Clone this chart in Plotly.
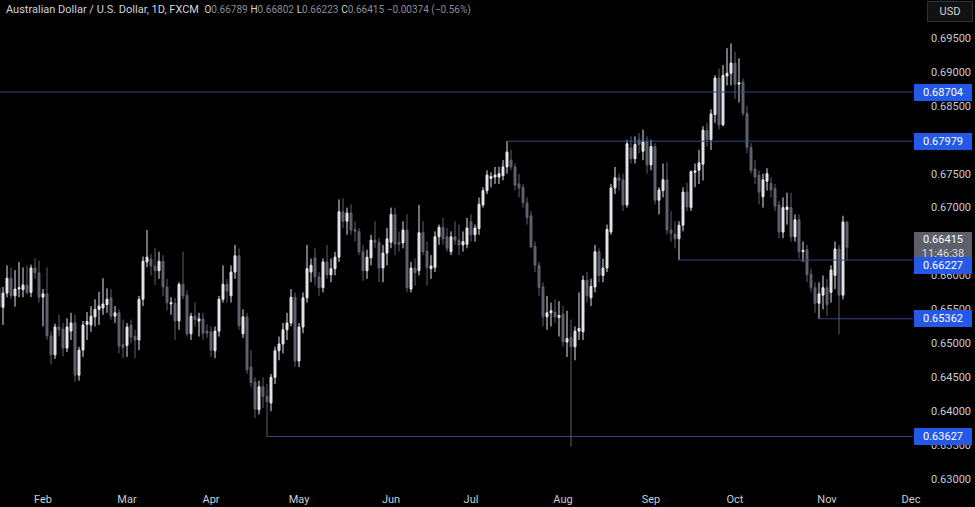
import pandas as pd
import plotly.graph_objects as go

# ---------------- data (AUD/USD daily) ----------------
dates = pd.bdate_range("2024-01-17", "2024-11-08")

opens = [
    0.6582, 0.6553, 0.6574, 0.6596, 0.6570, 0.6580, 0.6579, 0.6586, 0.6575, 0.6611,
    0.6604, 0.6568, 0.6573, 0.6511, 0.6483, 0.6524, 0.6521, 0.6493, 0.6518, 0.6530,
    0.6453, 0.6490, 0.6528, 0.6527, 0.6539, 0.6550, 0.6552, 0.6557, 0.6567, 0.6540,
    0.6545, 0.6498, 0.6497, 0.6527, 0.6510, 0.6505, 0.6565, 0.6620, 0.6624, 0.6614,
    0.6607, 0.6621, 0.6583, 0.6558, 0.6559, 0.6533, 0.6587, 0.6571, 0.6514, 0.6540,
    0.6533, 0.6536, 0.6518, 0.6517, 0.6489, 0.6518, 0.6565, 0.6587, 0.6570, 0.6605,
    0.6629, 0.6514, 0.6539, 0.6465, 0.6443, 0.6402, 0.6436, 0.6422, 0.6412, 0.6450,
    0.6489, 0.6499, 0.6520, 0.6530, 0.6568, 0.6474, 0.6524, 0.6567, 0.6605, 0.6626,
    0.6598, 0.6582, 0.6620, 0.6601, 0.6610, 0.6627, 0.6694, 0.6680, 0.6692, 0.6668,
    0.6665, 0.6635, 0.6607, 0.6626, 0.6652, 0.6649, 0.6611, 0.6633, 0.6649, 0.6690,
    0.6649, 0.6648, 0.6667, 0.6580, 0.6611, 0.6607, 0.6663, 0.6636, 0.6610, 0.6612,
    0.6657, 0.6671, 0.6657, 0.6635, 0.6657, 0.6652, 0.6645, 0.6646, 0.6679, 0.6660,
    0.6669, 0.6704, 0.6725, 0.6743, 0.6745, 0.6745, 0.6747, 0.6760, 0.6770, 0.6760,
    0.6735, 0.6730, 0.6707, 0.6688, 0.6643, 0.6615, 0.6583, 0.6539, 0.6545, 0.6546,
    0.6538, 0.6543, 0.6502, 0.6509, 0.6495, 0.6518, 0.6517, 0.6593, 0.6567, 0.6583,
    0.6635, 0.6600, 0.6611, 0.6664, 0.6729, 0.6744, 0.6741, 0.6704, 0.6788, 0.6772,
    0.6800, 0.6783, 0.6798, 0.6763, 0.6790, 0.6711, 0.6725, 0.6741, 0.6667, 0.6661,
    0.6654, 0.6674, 0.6723, 0.6700, 0.6752, 0.6755, 0.6764, 0.6814, 0.6800, 0.6837,
    0.6891, 0.6822, 0.6894, 0.6898, 0.6913, 0.6882, 0.6885, 0.6839, 0.6789, 0.6757,
    0.6748, 0.6716, 0.6739, 0.6736, 0.6728, 0.6704, 0.6664, 0.6697, 0.6700, 0.6657,
    0.6682, 0.6635, 0.6638, 0.6602, 0.6582, 0.6559, 0.6571, 0.6582, 0.6575, 0.6600,
    0.6639, 0.6571, 0.66789,
]
highs = [
    0.6590, 0.6583, 0.6615, 0.6612, 0.6608, 0.6620, 0.6612, 0.6615, 0.6616, 0.6625,
    0.6622, 0.6580, 0.6612, 0.6518, 0.6529, 0.6542, 0.6530, 0.6537, 0.6545, 0.6542,
    0.6495, 0.6533, 0.6546, 0.6555, 0.6565, 0.6576, 0.6596, 0.6581, 0.6580, 0.6555,
    0.6550, 0.6535, 0.6530, 0.6535, 0.6520, 0.6570, 0.6628, 0.6667, 0.6632, 0.6640,
    0.6635, 0.6630, 0.6595, 0.6568, 0.6567, 0.6590, 0.6635, 0.6578, 0.6545, 0.6560,
    0.6545, 0.6545, 0.6528, 0.6525, 0.6525, 0.6570, 0.6615, 0.6595, 0.6615, 0.6645,
    0.6640, 0.6550, 0.6545, 0.6490, 0.6450, 0.6445, 0.6450, 0.6440, 0.6455, 0.6495,
    0.6510, 0.6530, 0.6545, 0.6580, 0.6575, 0.6530, 0.6575, 0.6645, 0.6625, 0.6640,
    0.6605, 0.6625, 0.6645, 0.6625, 0.6635, 0.6712, 0.6714, 0.6700, 0.6705, 0.6680,
    0.6670, 0.6645, 0.6638, 0.6660, 0.6680, 0.6655, 0.6645, 0.6670, 0.6700, 0.6700,
    0.6665, 0.6680, 0.6690, 0.6620, 0.6625, 0.6704, 0.6680, 0.6650, 0.6630, 0.6665,
    0.6675, 0.6685, 0.6670, 0.6665, 0.6680, 0.6675, 0.6665, 0.6685, 0.6690, 0.6675,
    0.6715, 0.6730, 0.6755, 0.6752, 0.6760, 0.6760, 0.6770, 0.67979, 0.6785, 0.6765,
    0.6750, 0.6735, 0.6715, 0.6695, 0.6650, 0.6620, 0.6590, 0.6570, 0.6560, 0.6565,
    0.6562, 0.6555, 0.6548, 0.6535, 0.6525, 0.6575, 0.6600, 0.6605, 0.6595, 0.6645,
    0.6640, 0.6625, 0.6675, 0.6735, 0.6760, 0.6750, 0.6750, 0.6800, 0.6805, 0.6805,
    0.6810, 0.6815, 0.6805, 0.6800, 0.6795, 0.6730, 0.6765, 0.6767, 0.6695, 0.6680,
    0.6680, 0.6730, 0.6737, 0.6755, 0.6765, 0.6785, 0.6820, 0.6825, 0.6845, 0.6895,
    0.6905, 0.6910, 0.6935, 0.6942, 0.6930, 0.6920, 0.6890, 0.6850, 0.6795, 0.6770,
    0.6755, 0.6750, 0.6758, 0.6745, 0.6735, 0.6710, 0.6715, 0.6722, 0.6722, 0.6690,
    0.6690, 0.6650, 0.6645, 0.6610, 0.6590, 0.6590, 0.6600, 0.6595, 0.6615, 0.6650,
    0.6645, 0.6688, 0.66802,
]
lows = [
    0.6548, 0.6527, 0.6568, 0.6565, 0.6554, 0.6568, 0.6568, 0.6572, 0.6568, 0.6595,
    0.6560, 0.6525, 0.6505, 0.6469, 0.6477, 0.6510, 0.6481, 0.6487, 0.6505, 0.6443,
    0.6445, 0.6480, 0.6505, 0.6517, 0.6525, 0.6527, 0.6542, 0.6545, 0.6535, 0.6530,
    0.6485, 0.6478, 0.6480, 0.6500, 0.6478, 0.6490, 0.6555, 0.6612, 0.6600, 0.6586,
    0.6595, 0.6570, 0.6548, 0.6542, 0.6505, 0.6520, 0.6565, 0.6510, 0.6505, 0.6525,
    0.6510, 0.6505, 0.6508, 0.6480, 0.6478, 0.6510, 0.6560, 0.6560, 0.6560, 0.6595,
    0.6520, 0.6508, 0.6455, 0.6435, 0.6390, 0.6395, 0.6405, 0.63627, 0.6400, 0.6440,
    0.6475, 0.6485, 0.6505, 0.6525, 0.6465, 0.6465, 0.6515, 0.6560, 0.6590, 0.6585,
    0.6570, 0.6575, 0.6595, 0.6590, 0.6600, 0.6620, 0.6670, 0.6660, 0.6660, 0.6650,
    0.6630, 0.6592, 0.6595, 0.6615, 0.6640, 0.6590, 0.6590, 0.6615, 0.6640, 0.6630,
    0.6635, 0.6640, 0.6575, 0.6575, 0.6585, 0.6600, 0.6630, 0.6585, 0.6595, 0.6605,
    0.6645, 0.6645, 0.6635, 0.6630, 0.6645, 0.6630, 0.6635, 0.6640, 0.6650, 0.6650,
    0.6660, 0.6700, 0.6720, 0.6730, 0.6735, 0.6735, 0.6740, 0.6750, 0.6755, 0.6725,
    0.6715, 0.6700, 0.6675, 0.6640, 0.6605, 0.6570, 0.6525, 0.6520, 0.6525, 0.6530,
    0.6510, 0.6495, 0.6480, 0.6348, 0.6475, 0.6505, 0.6505, 0.6560, 0.6555, 0.6575,
    0.6590, 0.6590, 0.6605, 0.6660, 0.6720, 0.6725, 0.6695, 0.6700, 0.6765, 0.6765,
    0.6780, 0.6770, 0.6750, 0.6755, 0.6705, 0.6690, 0.6715, 0.6660, 0.6650, 0.6640,
    0.66227, 0.6665, 0.6695, 0.6695, 0.6730, 0.6735, 0.6740, 0.6790, 0.6785, 0.6825,
    0.6815, 0.6820, 0.6880, 0.6880, 0.6860, 0.6855, 0.6835, 0.6780, 0.6750, 0.6735,
    0.6705, 0.6700, 0.6725, 0.6715, 0.6695, 0.6655, 0.6655, 0.6675, 0.6650, 0.6650,
    0.6625, 0.6620, 0.6590, 0.6575, 0.6545, 0.65362, 0.6550, 0.6540, 0.6560, 0.6580,
    0.6513, 0.6565, 0.66223,
]
closes = [
    0.6553, 0.6574, 0.6596, 0.6570, 0.6580, 0.6582, 0.6586, 0.6575, 0.6611, 0.6604,
    0.6568, 0.6573, 0.6511, 0.6483, 0.6524, 0.6520, 0.6493, 0.6524, 0.6530, 0.6453,
    0.6490, 0.6527, 0.6532, 0.6540, 0.6550, 0.6555, 0.6558, 0.6565, 0.6540, 0.6545,
    0.6496, 0.6494, 0.6524, 0.6509, 0.6505, 0.6565, 0.6621, 0.6627, 0.6614, 0.6607,
    0.6621, 0.6583, 0.6560, 0.6560, 0.6533, 0.6587, 0.6570, 0.6514, 0.6540, 0.6535,
    0.6536, 0.6515, 0.6515, 0.6490, 0.6518, 0.6565, 0.6587, 0.6577, 0.6605, 0.6629,
    0.6526, 0.6539, 0.6461, 0.6442, 0.6403, 0.6436, 0.6422, 0.6414, 0.6450, 0.6489,
    0.6499, 0.6520, 0.6530, 0.6568, 0.6474, 0.6524, 0.6567, 0.6610, 0.6615, 0.6598,
    0.6582, 0.6620, 0.6601, 0.6610, 0.6627, 0.6694, 0.6680, 0.6692, 0.6667, 0.6665,
    0.6635, 0.6607, 0.6627, 0.6652, 0.6649, 0.6611, 0.6633, 0.6654, 0.6690, 0.6646,
    0.6646, 0.6667, 0.6582, 0.6611, 0.6604, 0.6663, 0.6635, 0.6612, 0.6614, 0.6657,
    0.6671, 0.6654, 0.6640, 0.6657, 0.6652, 0.6645, 0.6650, 0.6670, 0.6660, 0.6670,
    0.6705, 0.6725, 0.6748, 0.6746, 0.6748, 0.6750, 0.6760, 0.6782, 0.6760, 0.6733,
    0.6729, 0.6707, 0.6685, 0.6642, 0.6615, 0.6582, 0.6539, 0.6545, 0.6548, 0.6539,
    0.6541, 0.6502, 0.6507, 0.6495, 0.6518, 0.6522, 0.6593, 0.6570, 0.6584, 0.6635,
    0.6600, 0.6611, 0.6668, 0.6729, 0.6744, 0.6740, 0.6704, 0.6794, 0.6772, 0.6793,
    0.6793, 0.6798, 0.6763, 0.6790, 0.6711, 0.6726, 0.6741, 0.6667, 0.6662, 0.6654,
    0.6674, 0.6723, 0.6701, 0.6753, 0.6754, 0.6766, 0.6814, 0.6800, 0.6838, 0.6891,
    0.6822, 0.6895, 0.6898, 0.6913, 0.6882, 0.6884, 0.6839, 0.6789, 0.6755, 0.6745,
    0.6723, 0.6741, 0.6750, 0.6726, 0.6702, 0.6664, 0.6700, 0.6701, 0.6657, 0.6682,
    0.6635, 0.6637, 0.6601, 0.6582, 0.6559, 0.6573, 0.6582, 0.6557, 0.6608, 0.6639,
    0.6571, 0.66789, 0.66415,
]

# horizontal support / resistance levels and the bar they start from
level_values = [0.68704, 0.67979, 0.66227, 0.65362, 0.63627]
level_starts = [None, "2024-07-12", "2024-09-11", "2024-10-30", "2024-04-19"]

countdown = "11:46:38"
title_text = "Australian Dollar / U.S. Dollar, 1D, FXCM"

assert len(dates) == len(opens) == len(highs) == len(lows) == len(closes)

# ---------------- figure ----------------
n = len(dates)
xs = list(range(n))
axis_days = pd.bdate_range(dates[0], "2024-12-31")
tick_vals, tick_text = [], []
for i in range(1, len(axis_days)):
    if axis_days[i].month != axis_days[i - 1].month:
        tick_vals.append(i)
        tick_text.append(axis_days[i].strftime("%b"))

x_range = [0.25, 228.5]
y_range = [0.62912, 0.70060]

UP = "#e3e5ea"
DOWN = "#5f626d"
LEVEL = "#3a4488"
BLUE = "#2458e6"
TXT = "#c9ccd3"
FONT = "Roboto, 'Liberation Sans', sans-serif"

fig = go.Figure()
fig.add_trace(go.Candlestick(
    x=xs, open=opens, high=highs, low=lows, close=closes,
    increasing=dict(line=dict(color=UP, width=1), fillcolor=UP),
    decreasing=dict(line=dict(color=DOWN, width=1), fillcolor=DOWN),
    whiskerwidth=0, hoverinfo="skip", showlegend=False,
))

date_index = {d.strftime("%Y-%m-%d"): i for i, d in enumerate(dates)}
for val, start in zip(level_values, level_starts):
    x0 = x_range[0] if start is None else date_index[start]
    fig.add_shape(type="line", xref="x", yref="y", x0=x0, x1=x_range[1], y0=val, y1=val,
                  line=dict(color=LEVEL, width=1), layer="above")

annotations = []

# last price + countdown (gray), drawn first so the blue labels sit on top
last = closes[-1]
annotations.append(dict(
    xref="paper", yref="y", x=1, y=last, xanchor="left", yanchor="middle",
    xshift=1, yshift=1,
    text=f"{last:.5f}<br><span style='color:#d6d8dd'>{countdown}</span>", showarrow=False,
    font=dict(family=FONT, size=11, color="#ffffff"),
    bgcolor="#5d606a", bordercolor="#5d606a", borderwidth=1, borderpad=0, width=56, align="center"))

for val in level_values:
    shift = -5 if abs(val - 0.66227) < 1e-9 else 0
    annotations.append(dict(
        xref="paper", yref="y", x=1, y=val, xanchor="left", yanchor="middle",
        xshift=1, yshift=shift, text=f"{val:.5f}", showarrow=False,
        font=dict(family=FONT, size=11, color="#ffffff"),
        bgcolor=BLUE, bordercolor=BLUE, borderwidth=1, borderpad=1, width=54, align="center"))

chg = closes[-1] - closes[-2]
pct = chg / closes[-2] * 100
val_c = "#8b8e97"
lab_c = "#d1d4dc"
vs = "font-size:10px"
def ohlc_part(letter, value):
    return (f"<span style='color:{lab_c};{vs}'>{letter}</span>"
            f"<span style='color:{val_c};{vs}'>{value:.5f}</span>")
hdr = (f"<span style='color:{lab_c}'>{title_text}</span>&nbsp;&nbsp;"
       + " ".join([ohlc_part("O", opens[-1]), ohlc_part("H", highs[-1]),
                   ohlc_part("L", lows[-1]), ohlc_part("C", closes[-1])])
       + f" <span style='color:{val_c};{vs}'>{chg:+.5f} ({pct:+.2f}%)</span>")
hdr = hdr.replace("-0.", "\u22120.").replace("(-", "(\u2212")
annotations.append(dict(
    xref="paper", yref="paper", x=0, y=1, xanchor="left", yanchor="top", xshift=4, yshift=-1,
    text=hdr, showarrow=False, font=dict(family=FONT, size=11, color=lab_c), align="left"))

annotations.append(dict(
    xref="paper", yref="paper", x=1, y=1, xanchor="left", yanchor="top", xshift=14, yshift=-1,
    text="USD", showarrow=False, font=dict(family=FONT, size=11, color="#d1d4dc"),
    bgcolor="#121212", bordercolor="#2f323b", borderwidth=1, borderpad=3, width=38))

fig.update_layout(
    width=975, height=507,
    margin=dict(l=0, r=62, t=0, b=22),
    paper_bgcolor="#000000", plot_bgcolor="#000000",
    annotations=annotations,
    hovermode=False,
    font=dict(family=FONT, size=11, color=TXT),
    xaxis=dict(range=x_range, showgrid=False, zeroline=False, showline=False,
               tickmode="array", tickvals=tick_vals, ticktext=tick_text,
               ticks="outside", ticklen=4, tickcolor="rgba(0,0,0,0)",
               tickfont=dict(size=11, color=TXT),
               rangeslider=dict(visible=False), fixedrange=True),
    yaxis=dict(range=y_range, side="right", showgrid=False, zeroline=False, showline=False,
               tickmode="linear", tick0=0.63, dtick=0.005, tickformat=".5f",
               ticks="", ticklabelstandoff=17, tickfont=dict(size=11, color=TXT), fixedrange=True),
)

fig.write_html(
    "out.html",
    config={"displayModeBar": False, "staticPlot": True},
    post_script="document.body.style.margin='0';document.body.style.overflow='hidden';",
)
